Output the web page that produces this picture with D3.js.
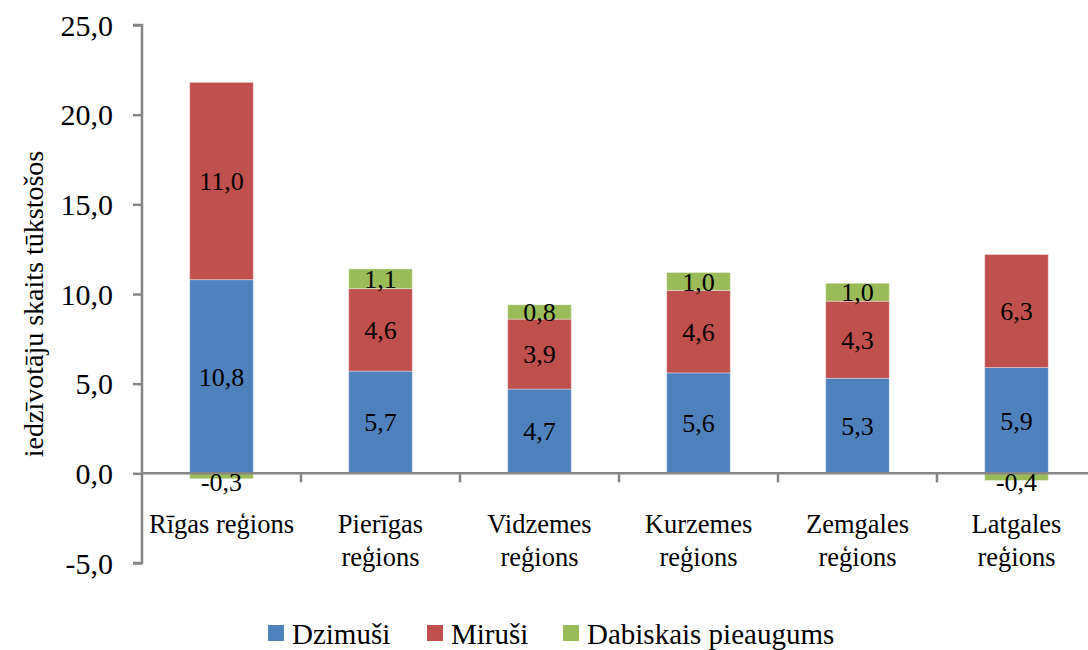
<!DOCTYPE html>
<html>
<head>
<meta charset="utf-8">
<script src="https://cdn.jsdelivr.net/npm/d3@7"></script>
<style>
  body { margin: 0; background: #fff; }
  text { font-family: "Liberation Serif", "Times New Roman", serif; fill: #000; }
</style>
</head>
<body>
<div id="chart"></div>
<script>
// data
var regions = ["Rīgas reģions", "Pierīgas reģions", "Vidzemes reģions", "Kurzemes reģions", "Zemgales reģions", "Latgales reģions"];
var regionLines = [["Rīgas reģions"], ["Pierīgas", "reģions"], ["Vidzemes", "reģions"], ["Kurzemes", "reģions"], ["Zemgales", "reģions"], ["Latgales", "reģions"]];
var dzimusi = [10.8, 5.7, 4.7, 5.6, 5.3, 5.9];
var mirusi = [11.0, 4.6, 3.9, 4.6, 4.3, 6.3];
var pieaugums = [-0.3, 1.1, 0.8, 1.0, 1.0, -0.4];
var seriesNames = ["Dzimuši", "Miruši", "Dabiskais pieaugums"];
var yTicks = [-5, 0, 5, 10, 15, 20, 25];

var colors = ["#4F81BD", "#C0504D", "#9BBB59"];
var width = 1088, height = 650;
var mLeft = 142, mTop = 25, plotW = 954, mBottom = 563;

var svg = d3.select("#chart").append("svg")
    .attr("width", width)
    .attr("height", height);

var x = d3.scaleBand().domain(regions).range([mLeft, mLeft + plotW]).paddingInner(0.6).paddingOuter(0.3);
var xOuter = d3.scaleBand().domain(regions).range([mLeft, mLeft + plotW]);
var y = d3.scaleLinear().domain([-5, 25]).range([mBottom, mTop]);

var fmt = function (v) { return d3.format(".1f")(v).replace(".", ",").replace("−", "-"); };

// segments: blue from 0, red on top of blue, green on top if positive, below zero if negative
var segs = [];
regions.forEach(function (r, i) {
    segs.push({ r: r, s: 0, y0: 0, y1: dzimusi[i], v: dzimusi[i] });
    segs.push({ r: r, s: 1, y0: dzimusi[i], y1: dzimusi[i] + mirusi[i], v: mirusi[i] });
    var top2 = dzimusi[i] + mirusi[i];
    if (pieaugums[i] >= 0) segs.push({ r: r, s: 2, y0: top2, y1: top2 + pieaugums[i], v: pieaugums[i] });
    else segs.push({ r: r, s: 2, y0: pieaugums[i], y1: 0, v: pieaugums[i] });
});

svg.append("g").selectAll("rect")
    .data(segs)
    .enter().append("rect")
    .attr("x", function (d) { return x(d.r); })
    .attr("width", x.bandwidth())
    .attr("y", function (d) { return y(d.y1); })
    .attr("height", function (d) { return y(d.y0) - y(d.y1); })
    .attr("fill", function (d) { return colors[d.s]; })
    .attr("stroke", "rgba(255,255,255,0.35)")
    .attr("stroke-width", 1);

// y axis
var yAxis = svg.append("g")
    .attr("transform", "translate(" + mLeft + ",0)")
    .call(d3.axisLeft(y).tickValues(yTicks).tickSize(9).tickPadding(20).tickFormat(fmt));
yAxis.select(".domain").attr("stroke", "#868686").attr("stroke-width", 2.5).attr("d", "M-9," + y(25) + "H0V" + y(-5) + "H-9");
yAxis.selectAll(".tick line").attr("stroke", "#868686").attr("stroke-width", 2.5);
yAxis.selectAll(".tick text").style("font-size", "30px").attr("dy", "0.34em").attr("fill", "#000");

// zero line with ticks between categories
var xAxis = svg.append("g")
    .attr("transform", "translate(0," + y(0) + ")");
xAxis.append("line")
    .attr("x1", mLeft).attr("x2", mLeft + plotW)
    .attr("stroke", "#868686").attr("stroke-width", 2.5);
xAxis.selectAll(".xt")
    .data(regions)
    .enter().append("line")
    .attr("x1", function (d) { return xOuter(d) + xOuter.bandwidth(); })
    .attr("x2", function (d) { return xOuter(d) + xOuter.bandwidth(); })
    .attr("y1", 0).attr("y2", 9)
    .attr("stroke", "#868686").attr("stroke-width", 2.5);

// category labels
var cat = svg.append("g").selectAll("text")
    .data(regions)
    .enter().append("text")
    .attr("text-anchor", "middle")
    .style("font-size", "26.5px")
    .attr("x", function (d) { return x(d) + x.bandwidth() / 2; })
    .attr("y", y(0) + 60);
cat.each(function (d, i) {
    var t = d3.select(this);
    regionLines[i].forEach(function (l, j) {
        t.append("tspan").attr("x", t.attr("x")).attr("dy", j === 0 ? 0 : 33).text(l);
    });
});

// data labels
svg.append("g").selectAll("text")
    .data(segs)
    .enter().append("text")
    .attr("text-anchor", "middle")
    .attr("dy", "0.35em")
    .style("font-size", "26px")
    .attr("x", function (d) { return x(d.r) + x.bandwidth() / 2; })
    .attr("y", function (d) {
        if (d.v < 0) return y(0) + 9;
        return (y(d.y0) + y(d.y1)) / 2;
    })
    .text(function (d) { return fmt(d.v); });

// y title
svg.append("text")
    .attr("transform", "translate(43,304) rotate(-90)")
    .attr("text-anchor", "middle")
    .style("font-size", "28px")
    .text("iedzīvotāju skaits tūkstošos");

// legend
var legX = [268, 427, 563];
var leg = svg.append("g").selectAll("g")
    .data(seriesNames)
    .enter().append("g")
    .attr("transform", function (d, i) { return "translate(" + legX[i] + ",625)"; });
leg.append("rect").attr("width", 16).attr("height", 16).attr("fill", function (d, i) { return colors[i]; });
leg.append("text").attr("x", 24).attr("y", 19).style("font-size", "29px").text(function (d) { return d; });
</script>
</body>
</html>
